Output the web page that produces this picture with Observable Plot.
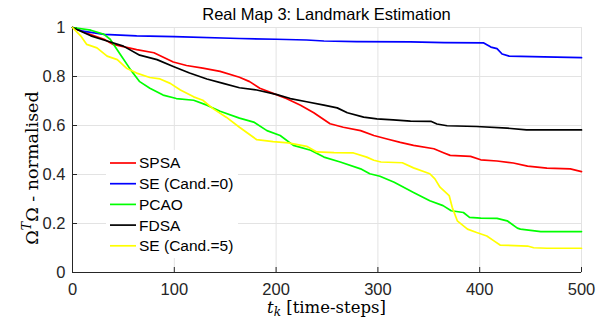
<!DOCTYPE html>
<html><head><meta charset="utf-8">
<script src="https://cdn.jsdelivr.net/npm/d3@7"></script>
<script src="https://cdn.jsdelivr.net/npm/@observablehq/plot@0.6"></script>
<style>body{margin:0;background:#fff}</style>
</head><body><div id="chart"></div>
<script>
const seriesNames = ["SPSA", "SE (Cand.=0)", "PCAO", "FDSA", "SE (Cand.=5)"];
const seriesColors = ["#ff0000", "#0000ff", "#00ff00", "#000000", "#ffff00"];
const xTicks = [0, 100, 200, 300, 400, 500];
const yTicks = [0, 0.2, 0.4, 0.6, 0.8, 1];
const yTickLabels = ["0", "0.2", "0.4", "0.6", "0.8", "1"];

const spsa = [[0,1],[15,0.975],[31,0.952],[40,0.931],[63,0.910],[80,0.897],[99,0.859],[112,0.845],[128,0.834],[145,0.821],[164,0.797],[174,0.779],[184,0.752],[197,0.731],[210,0.710],[224,0.683],[237,0.652],[253,0.607],[266,0.593],[283,0.579],[296,0.559],[309,0.545],[322,0.531],[335,0.519],[355,0.505],[365,0.488],[371,0.478],[391,0.474],[401,0.460],[417,0.455],[433,0.447],[447,0.434],[466,0.426],[489,0.423],[500,0.412]];
const se0 = [[0,1],[10,0.985],[31,0.972],[63,0.966],[100,0.963],[164,0.955],[200,0.952],[230,0.949],[247,0.945],[279,0.942],[332,0.941],[365,0.938],[404,0.937],[411,0.920],[417,0.914],[422,0.892],[429,0.883],[463,0.880],[500,0.877]];
const pcao = [[0,1],[18,0.989],[31,0.972],[37,0.952],[47,0.890],[57,0.828],[66,0.779],[76,0.752],[89,0.724],[102,0.710],[119,0.703],[132,0.683],[145,0.658],[164,0.630],[178,0.614],[191,0.579],[204,0.559],[217,0.519],[234,0.499],[247,0.471],[263,0.451],[283,0.423],[292,0.403],[302,0.393],[316,0.368],[335,0.327],[351,0.293],[364,0.273],[372,0.252],[384,0.245],[390,0.225],[401,0.222],[417,0.221],[427,0.211],[437,0.181],[440,0.177],[460,0.167],[500,0.167]];
const fdsa = [[0,1],[18,0.966],[34,0.945],[50,0.924],[66,0.887],[83,0.869],[99,0.841],[115,0.814],[132,0.790],[148,0.772],[164,0.754],[181,0.745],[200,0.727],[214,0.710],[230,0.697],[247,0.683],[260,0.672],[270,0.652],[286,0.634],[299,0.627],[315,0.623],[332,0.618],[352,0.617],[358,0.606],[368,0.599],[397,0.596],[427,0.589],[446,0.582],[500,0.582]];
const se5 = [[0,1],[8,0.966],[14,0.931],[24,0.917],[34,0.883],[44,0.869],[53,0.834],[63,0.814],[76,0.796],[86,0.790],[96,0.772],[106,0.745],[119,0.717],[128,0.703],[138,0.669],[151,0.634],[164,0.593],[181,0.542],[197,0.534],[212,0.529],[230,0.515],[240,0.492],[257,0.489],[276,0.488],[289,0.471],[296,0.458],[303,0.451],[324,0.448],[335,0.427],[351,0.403],[356,0.382],[361,0.348],[370,0.314],[373,0.266],[378,0.211],[388,0.177],[397,0.163],[407,0.149],[414,0.129],[420,0.112],[447,0.108],[453,0.101],[466,0.099],[500,0.099]];

const seriesData = [spsa, se0, pcao, fdsa, se5];
const table = seriesData.flatMap((arr, i) => arr.map(([t, v]) => ({series: seriesNames[i], t, v})));

const W = 611, H = 324, mL = 72, mR = 30, mT = 27, mB = 52;
const axisColor = "#262626";
const gridColor = "#e3e3e3";

const chart = Plot.plot({
  width: W, height: H,
  marginLeft: mL, marginRight: mR, marginTop: mT, marginBottom: mB,
  x: {domain: [0, 500]},
  y: {domain: [0, 1]},
  color: {domain: seriesNames, range: seriesColors},
  style: {fontFamily: "'Liberation Sans', Arial, sans-serif", fontSize: "16.5px", color: axisColor, background: "#fff"},
  marks: [
    Plot.gridX(xTicks, {stroke: gridColor, strokeOpacity: 1}),
    Plot.gridY(yTicks, {stroke: gridColor, strokeOpacity: 1}),
    Plot.frame({stroke: gridColor}),
    Plot.ruleX([0], {stroke: axisColor}),
    Plot.ruleY([0], {stroke: axisColor}),
    Plot.tickX(xTicks, {x: d => d, insetTop: (H - mT - mB) - 5, stroke: axisColor}),
    Plot.tickY(yTicks, {y: d => d, insetRight: (W - mL - mR) - 5, stroke: axisColor}),
    Plot.line(table, {x: "t", y: "v", z: "series", stroke: "series", strokeWidth: 1.7}),
    Plot.axisX(xTicks, {tickSize: 0, tickPadding: 11, label: null}),
    Plot.axisY(yTicks, {tickSize: 0, tickPadding: 7, label: null, tickFormat: d => yTickLabels[yTicks.indexOf(d)]})
  ]
});

document.getElementById("chart").appendChild(chart);
const svg = d3.select(chart);

// Title
svg.append("text")
  .attr("x", (mL + W - mR) / 2).attr("y", 20)
  .attr("text-anchor", "middle")
  .style("font-family", "'Liberation Sans', Arial, sans-serif")
  .style("font-size", "16.5px").attr("fill", "#000")
  .text("Real Map 3: Landmark Estimation");

const serif = "'DejaVu Serif', 'Liberation Serif', serif";

// X label: t_k [time-steps]
const xl = svg.append("text")
  .attr("x", (mL + W - mR) / 2).attr("y", 313)
  .attr("text-anchor", "middle")
  .style("font-family", serif)
  .style("font-size", "16.5px").attr("fill", "#000");
xl.append("tspan").style("font-style", "italic").text("t");
xl.append("tspan").style("font-style", "italic").style("font-size", "12px").attr("dy", 3).text("k");
xl.append("tspan").attr("dy", -3).text(" [time-steps]");

// Y label: Ω^T Ω - normalised
const yl = svg.append("text")
  .attr("transform", `translate(38, 168) rotate(-90)`)
  .attr("text-anchor", "middle")
  .style("font-family", serif)
  .style("font-size", "17.5px").attr("fill", "#000");
yl.append("tspan").text("Ω");
yl.append("tspan").style("font-style", "italic").style("font-size", "12.5px").attr("dy", -7).text("T");
yl.append("tspan").attr("dy", 7).text("Ω - normalised");

// Legend
const lg = svg.append("g").attr("text-anchor", "start");
lg.append("rect").attr("x", 106).attr("y", 150).attr("width", 132).attr("height", 108).attr("fill", "#fff");
seriesNames.forEach((name, i) => {
  const y = 163 + i * 20.7;
  lg.append("line").attr("x1", 110).attr("x2", 136).attr("y1", y).attr("y2", y)
    .attr("stroke", seriesColors[i]).attr("stroke-width", 1.7);
  lg.append("text").attr("x", 139).attr("y", y).attr("dy", "0.35em")
    .attr("text-anchor", "start")
    .style("font-family", "'Liberation Sans', Arial, sans-serif")
    .style("font-size", "15.5px").attr("fill", "#000").text(name);
});
</script>
</body></html>
